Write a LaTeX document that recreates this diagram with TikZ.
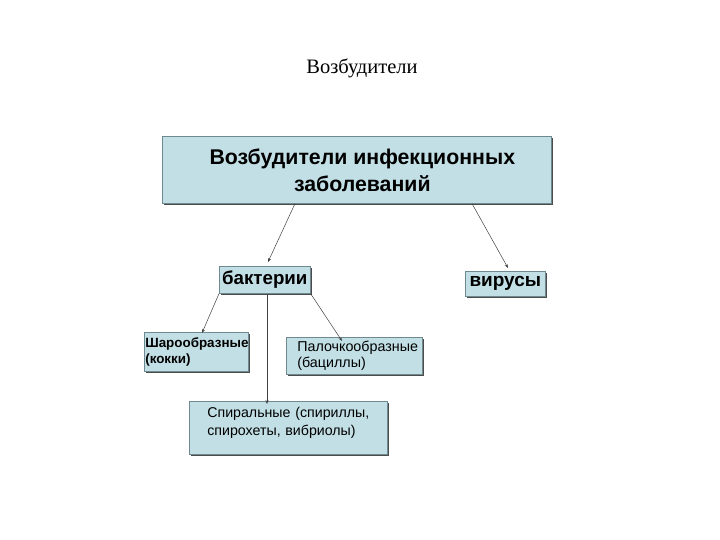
\documentclass[tikz,border=0pt]{standalone}
\usepackage{fontspec}
\setmainfont{Liberation Serif}
\newfontfamily\arialf{Liberation Sans}
\usetikzlibrary{arrows.meta,shadows}
\definecolor{boxfill}{HTML}{C2DFE5}
\definecolor{boxline}{HTML}{6E8A90}
\tikzset{
  box/.style={draw=boxline, line width=0.6pt, fill=boxfill, anchor=north west, inner sep=0pt,
    drop shadow={shadow xshift=1.6pt, shadow yshift=-1.6pt, fill=black!70, opacity=1}},
  conn/.style={draw=black!75, line width=0.5pt, -{Stealth[length=4pt,width=3pt]}},
}
\begin{document}
\begin{tikzpicture}[x=1pt,y=-1pt]
\useasboundingbox (0,0) rectangle (720,540);
\node[font=\fontsize{20.5}{24}\selectfont] (title) at (362,68) {Возбудители};
\node[box, minimum width=389pt, minimum height=67pt, align=center,
  font=\arialf\bfseries\fontsize{21.3}{27}\selectfont] (top) at (162,136)
  {\hspace*{11pt}Возбудители инфекционных\\\hspace*{11pt}заболеваний};
\node[box, minimum width=91pt, minimum height=27pt,
  font=\arialf\bfseries\fontsize{18.7}{20}\selectfont] (bact) at (219,266) {бактерии};
\node[box, minimum width=80pt, minimum height=25pt,
  font=\arialf\bfseries\fontsize{19}{20}\selectfont] (vir) at (465,271) {вирусы};
\node[box, minimum width=104pt, minimum height=39pt, text width=102pt, align=left, inner xsep=1pt,
  font=\arialf\bfseries\fontsize{13.4}{16}\selectfont] (shar) at (144,332) {\mbox{Шарообразные}\\(кокки)};
\node[box, minimum width=136pt, minimum height=37pt, text width=114pt, align=left, inner xsep=11pt,
  font=\arialf\fontsize{14.3}{15.5}\selectfont] (pal) at (286,337) {\mbox{Палочкообразные}\\(бациллы)};
\node[box, minimum width=198pt, minimum height=53pt, text width=162pt, align=left, inner xsep=18pt,
  font=\arialf\fontsize{14.2}{18.5}\selectfont] (spir) at (189,401) {\mbox{Спиральные (спириллы,}\\\mbox{спирохеты, вибриолы)}\\[-6pt]\mbox{}};
\coordinate (t1) at (268,262);
\coordinate (t2) at (508,268);
\draw[conn] ([xshift=133pt]top.south west) -- (t1);
\draw[conn] ([xshift=310pt]top.south west) -- (t2);
\draw[conn] (bact.south west) -- ([xshift=58pt,yshift=-1pt]shar.north west);
\draw[conn] ([xshift=48pt]bact.south west) -- ([xshift=78pt,yshift=-3pt]spir.north west);
\draw[conn] (bact.south east) -- ([xshift=56pt,yshift=-4pt]pal.north west);
\end{tikzpicture}
\end{document}
